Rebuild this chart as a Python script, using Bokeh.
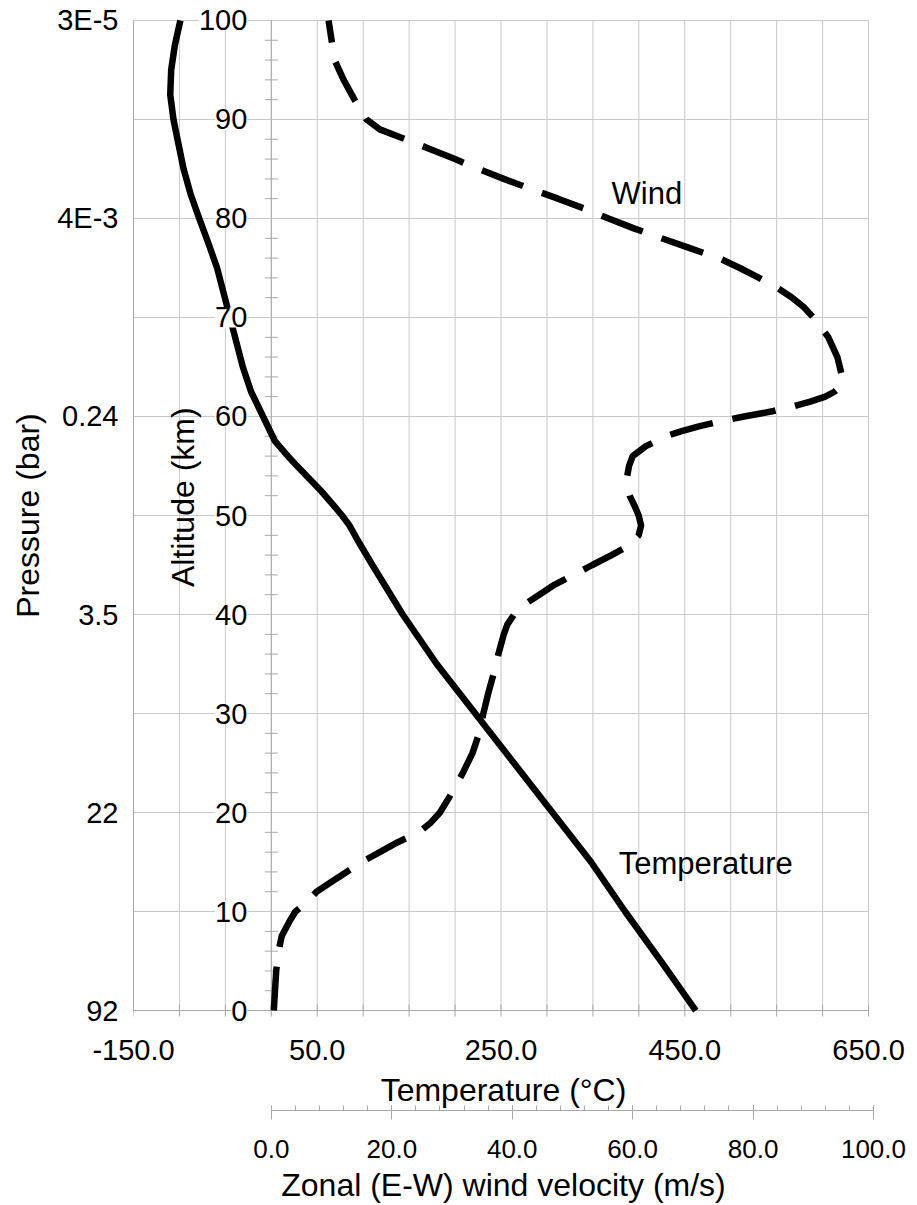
import math
from bokeh.plotting import figure
from bokeh.models import (Range1d, LinearAxis, FixedTicker, PrintfTickFormatter, Label)
from bokeh.embed import file_html
from bokeh.resources import INLINE

# ---------------- data ----------------
alt_temp = [0, 5, 10, 15, 20, 25, 30, 35, 40, 45, 47.5, 49, 50, 51, 52.5, 55, 56,
            57.5, 60, 62.5, 65, 67.5, 70, 72.5, 75, 77.5, 80, 82.5, 85, 87.5, 90,
            92.5, 95, 97.5, 100]
temp_c = [462, 424, 385, 348, 306, 264, 222, 180, 143, 110, 94, 85, 77, 68, 54, 28,
          18, 4, -9, -22, -31, -38, -45, -52, -59, -68.5, -78.5, -88, -95.5, -101,
          -106.5, -110, -109, -105, -99]

alt_wind = [0, 2, 4, 6, 7.5, 9, 10, 10.5, 11, 12, 13, 14, 15, 16, 17, 18, 19, 20,
            22, 24, 26, 28, 30, 32, 34, 36, 38, 39, 40, 41, 42, 43, 44, 45, 46, 47,
            48, 49, 50, 51, 52, 53, 54, 55, 56, 57, 58, 58.5, 59, 59.5, 60, 60.5,
            61, 61.5, 62, 62.5, 63, 64, 66, 68, 70, 71, 72, 73, 74, 75, 76, 77, 78,
            79, 80, 81, 82, 83, 84, 85, 86, 87, 88, 89, 90, 92, 94, 96, 98, 100]
wind_ms = [0.4, 0.6, 0.8, 1.2, 1.7, 3.0, 4.0, 5.0, 6.0, 7.5, 10.0, 12.5, 15.0, 18.0,
           21.0, 24.5, 26.5, 28.0, 30.0, 31.8, 33.4, 34.5, 35.2, 36.0, 36.9, 37.7,
           38.6, 39.2, 40.3, 42.0, 44.5, 47.0, 50.2, 53.3, 56.5, 59.5, 61.0, 61.4,
           61.0, 60.3, 59.5, 59.1, 59.1, 59.4, 60.0, 62.2, 65.5, 68.0, 71.0, 74.5,
           78.5, 83.0, 86.5, 89.5, 92.0, 93.5, 94.5, 94.8, 94.0, 92.5, 90.0, 88.5,
           86.5, 84.0, 81.0, 77.8, 74.3, 69.5, 64.8, 60.2, 56.0, 52.0, 47.6, 43.0,
           38.6, 34.4, 30.5, 26.4, 22.3, 18.0, 15.8, 13.8, 12.0, 10.5, 10.0, 9.5]

temp_ticks = [-150, 50, 250, 450, 650]
temp_minor = list(range(-150, 651, 50))
wind_ticks = [0, 20, 40, 60, 80, 100]
wind_minor = list(range(0, 101, 4))
alt_ticks = [0, 10, 20, 30, 40, 50, 60, 70, 80, 90, 100]
alt_labels = ["0", "10", "20", "30", "40", "50", "60", "70", "80", "90", "100"]
alt_minor = [a for a in range(0, 101, 2) if a % 10 != 0]
press_alt = [0, 20, 40, 60, 80, 100]
press_labels = ["92", "22", "3.5", "0.24", "4E-3", "3E-5"]
alt_axis_at = 0  # altitude axis drawn at 0 °C

FONT = "Liberation Sans"
GRID = "#c8c8c8"
AXIS = "#a8a8a8"

a_lo, a_hi = alt_ticks[0], alt_ticks[-1]
t_lo, t_hi = temp_minor[0], temp_minor[-1]

# the frame reaches a little beyond 0..100 km so the inner altitude labels are not clipped
p = figure(width=908, height=1205, x_range=Range1d(-150, 655.4),
           y_range=Range1d(-1.31, 101.31),
           output_backend="svg", toolbar_location=None,
           x_axis_type=None, y_axis_type=None,
           min_border_left=133, min_border_right=35, min_border_top=7,
           min_border_bottom=181)
p.outline_line_color = None
p.background_fill_color = "white"
p.extra_x_ranges = {"wind": Range1d(-22.9, 100)}

# grid lines
n_t = len(temp_minor)
n_a = len(alt_ticks)
p.segment(x0=temp_minor, x1=temp_minor, y0=[a_lo] * n_t, y1=[a_hi] * n_t,
          line_color=GRID, line_width=1, level="underlay")
p.segment(x0=[t_lo] * n_a, x1=[t_hi] * n_a, y0=alt_ticks, y1=alt_ticks,
          line_color=GRID, line_width=1, level="underlay")
# temperature axis line and its outward ticks at 0 km
p.segment(x0=[t_lo], x1=[t_hi], y0=[a_lo], y1=[a_lo], line_color=AXIS, line_width=1)
p.scatter(x=temp_minor, y=[a_lo] * n_t, marker="dash", angle=math.pi / 2, size=12,
          line_color=AXIS, line_width=1)


def style_axis(ax, tick_size, title_size="32px"):
    ax.axis_line_color = AXIS
    ax.major_tick_line_color = AXIS
    ax.minor_tick_line_color = AXIS
    ax.major_label_text_font = FONT
    ax.major_label_text_font_size = tick_size
    ax.major_label_text_color = "black"
    ax.axis_label_text_font = FONT
    ax.axis_label_text_font_size = title_size
    ax.axis_label_text_font_style = "normal"
    ax.axis_label_text_color = "black"


# temperature axis (labels and title; line drawn at 0 km above)
tax = LinearAxis(ticker=FixedTicker(ticks=temp_ticks, minor_ticks=temp_minor),
                 formatter=PrintfTickFormatter(format="%.1f"),
                 bounds=(t_lo, t_hi),
                 axis_label="Temperature (°C)")
style_axis(tax, "29px")
tax.axis_line_color = None
tax.major_tick_line_color = None
tax.minor_tick_line_color = None
tax.major_tick_in = 0
tax.major_tick_out = 0
tax.minor_tick_in = 0
tax.minor_tick_out = 0
tax.major_label_standoff = 16
tax.axis_label_standoff = 9
p.add_layout(tax, "below")

# wind axis
wax = LinearAxis(x_range_name="wind",
                 ticker=FixedTicker(ticks=wind_ticks, minor_ticks=wind_minor),
                 formatter=PrintfTickFormatter(format="%.1f"),
                 bounds=(wind_ticks[0], wind_ticks[-1]),
                 axis_label="Zonal (E-W) wind velocity (m/s)")
style_axis(wax, "26px")
wax.major_tick_in = 5
wax.major_tick_out = 9
wax.minor_tick_in = 5
wax.minor_tick_out = 0
wax.major_label_standoff = 20
wax.axis_label_standoff = 6
p.add_layout(wax, "below")

# pressure axis
pax = LinearAxis(ticker=FixedTicker(ticks=press_alt, minor_ticks=[]),
                 major_label_overrides={a: l for a, l in zip(press_alt, press_labels)},
                 bounds=(a_lo, a_hi),
                 axis_label="Pressure (bar)")
style_axis(pax, "29px")
pax.major_tick_in = 0
pax.major_tick_out = 0
pax.minor_tick_in = 0
pax.minor_tick_out = 0
pax.major_label_standoff = 15
pax.axis_label_standoff = 8
p.add_layout(pax, "left")

# altitude axis inside the plot (line, crossing minor ticks)
p.segment(x0=[alt_axis_at], x1=[alt_axis_at], y0=[a_lo], y1=[a_hi],
          line_color=AXIS, line_width=1)
p.scatter(x=[alt_axis_at] * len(alt_minor), y=alt_minor, marker="dash", size=13,
          line_color=AXIS, line_width=1)

# curves
p.line(temp_c, alt_temp, line_color="black", line_width=6.5, line_join="round")
p.line(wind_ms, alt_wind, x_range_name="wind", line_color="black", line_width=6.5,
       line_dash="44 20")

# altitude tick labels on a white background
for a, lab in zip(alt_ticks, alt_labels):
    p.add_layout(Label(x=alt_axis_at, y=a, text=lab, x_offset=-24,
                       text_align="right", text_baseline="middle", text_font=FONT,
                       text_font_size="29px", text_color="black",
                       background_fill_color="white"))

p.add_layout(Label(x=-95.7, y=51.85, text="Altitude (km)", angle=math.pi / 2,
                   text_align="center", text_baseline="middle", text_font=FONT,
                   text_font_size="32px", text_color="black"))
p.add_layout(Label(x=408.7, y=82.5, text="Wind", text_align="center",
                   text_baseline="middle", text_font=FONT, text_font_size="31px",
                   text_color="black"))
p.add_layout(Label(x=472.8, y=14.83, text="Temperature", text_align="center",
                   text_baseline="middle", text_font=FONT, text_font_size="31px",
                   text_color="black"))

open("out.html", "w").write(file_html(p, INLINE))
